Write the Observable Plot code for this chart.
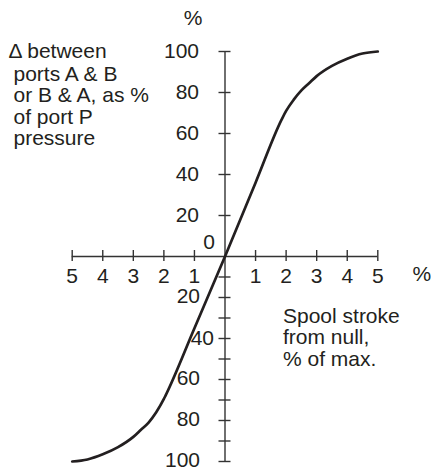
<!DOCTYPE html>
<html>
<head>
<meta charset="utf-8">
<script src="https://cdn.jsdelivr.net/npm/d3@7"></script>
<script src="https://cdn.jsdelivr.net/npm/@observablehq/plot@0.6"></script>
<style>
  html, body { margin: 0; padding: 0; background: #fff; }
</style>
</head>
<body>
<div id="chart"></div>
<script>
// Spool stroke (% of max, negative = other direction) vs pressure difference (% of port P)
const strokeX  = [-5, -4.5, -4, -3.5, -3, -2.75, -2.5, -2.25, -2, -1.95, -1, 0, 1, 1.86, 2, 2.25, 2.5, 2.75, 3, 3.5, 4, 4.5, 5];
const pressure = [-100, -99, -96.5, -93, -88, -84.5, -81, -76, -69.5, -68, -35, 0, 36, 67, 71, 76.5, 81, 84.5, 88, 93, 96.5, 99, 100];

const xDomain = [-5, 5];
const yDomain = [-100, 100];
const xTicks = [-5, -4, -3, -2, -1, 1, 2, 3, 4, 5];
const yTicksUpper = [20, 40, 60, 80, 100];
const yTicksLower = [-10, -20, -30, -40, -50, -60, -70, -80, -90, -100];
const yLabelsUpper = [100, 80, 60, 40, 20];
const yLabelsLower = [-20, -40, -60, -80, -100];
const yTitleFirst = "\u0394 between";
const yTitleRest = ["ports A & B", "or B & A, as %", "of port P", "pressure"];
const xTitle = ["Spool stroke", "from null,", "% of max."];
const unit = "%";

const curve = strokeX.map((x, i) => ({x, y: pressure[i]}));
const ink = "#231f20";
const axisInk = "#333";
const font = "'Liberation Sans', Arial, Helvetica, sans-serif";

const chart = Plot.plot({
  width: 431,
  height: 469,
  marginLeft: 71.7,
  marginRight: 53.7,
  marginTop: 51,
  marginBottom: 8,
  x: {domain: xDomain, axis: null},
  y: {domain: yDomain, axis: null},
  style: {fontFamily: font, fontSize: "21px", color: ink, background: "#fff", overflow: "visible"},
  marks: [
    // axes
    Plot.ruleY([0], {x1: xDomain[0], x2: xDomain[1], stroke: axisInk, strokeWidth: 1.4}),
    Plot.ruleX([0], {y1: yDomain[0], y2: yDomain[1], stroke: axisInk, strokeWidth: 1.4}),
    // ticks
    Plot.ruleX(xTicks, {x: d => d, y1: 0, y2: 0, insetTop: -6, insetBottom: -5, stroke: axisInk, strokeWidth: 1.4}),
    Plot.ruleY(yTicksUpper.concat(yTicksLower), {y: d => d, x1: 0, x2: 0, insetLeft: -6, insetRight: -6, stroke: axisInk, strokeWidth: 1.4}),
    // tick labels
    Plot.text(xTicks, {x: d => d, y: 0, text: d => String(Math.abs(d)), lineAnchor: "top", dy: 12, fontSize: 21, fill: ink}),
    Plot.text(yLabelsUpper, {x: 0, y: d => d, text: d => String(d), textAnchor: "end", dx: -26, fontSize: 21, fill: ink}),
    Plot.text(yLabelsLower.filter(d => d !== -40), {x: 0, y: d => d, text: d => String(Math.abs(d)), textAnchor: "end", dx: -25, dy: -1, fontSize: 21, fill: ink}),
    Plot.text(yLabelsLower.filter(d => d === -40), {x: 0, y: d => d, text: d => String(Math.abs(d)), textAnchor: "end", dx: -11, fontSize: 21, fill: ink}),
    Plot.text([0], {x: 0, y: 0, text: d => String(d), textAnchor: "end", dx: -10, dy: -14, fontSize: 21, fill: ink}),
    // units
    Plot.text([unit], {x: 0, y: yDomain[1], text: d => d, dx: -32, dy: -33, fontSize: 21, fill: ink}),
    Plot.text([unit], {x: xDomain[1], y: 0, text: d => d, dx: 44, dy: 18, fontSize: 21, fill: ink}),
    // titles
    Plot.text([yTitleFirst], {frameAnchor: "top-left", text: d => d, textAnchor: "start", lineAnchor: "top", dx: -63.7, dy: -8, fontSize: 21, fill: ink}),
    Plot.text([yTitleRest.join("\n")], {frameAnchor: "top-left", text: d => d, textAnchor: "start", lineAnchor: "top", dx: -58.7, dy: 14, lineHeight: 1.02, fontSize: 21, fill: ink}),
    Plot.text([xTitle.join("\n")], {x: 0, y: 0, text: d => d, textAnchor: "start", lineAnchor: "top", dx: 58, dy: 51, lineHeight: 1.02, fontSize: 21, fill: ink}),
    // curve
    Plot.line(curve, {x: "x", y: "y", curve: "monotone-x", stroke: ink, strokeWidth: 2.7})
  ]
});
document.getElementById("chart").appendChild(chart);
</script>
</body>
</html>
